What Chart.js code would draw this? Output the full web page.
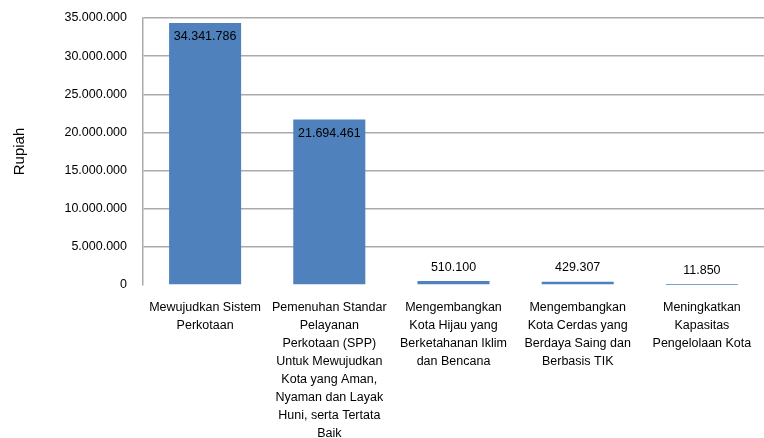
<!DOCTYPE html>
<html>
<head>
<meta charset="utf-8">
<script src="https://cdn.jsdelivr.net/npm/chart.js@4/dist/chart.umd.min.js"></script>
<style>
  html, body { margin: 0; padding: 0; background: #fff; }
  #wrap { width: 764px; height: 438px; }
</style>
</head>
<body>
<div id="wrap"><canvas id="chart"></canvas></div>
<script>
// program names, wrapped the way the original chart wraps them
const programs = [
  ["Mewujudkan Sistem", "Perkotaan"],
  ["Pemenuhan Standar", "Pelayanan", "Perkotaan (SPP)", "Untuk Mewujudkan", "Kota yang Aman,", "Nyaman dan Layak", "Huni, serta Tertata", "Baik"],
  ["Mengembangkan", "Kota Hijau yang", "Berketahanan Iklim", "dan Bencana"],
  ["Mengembangkan", "Kota Cerdas yang", "Berdaya Saing dan", "Berbasis TIK"],
  ["Meningkatkan", "Kapasitas", "Pengelolaan Kota"]
];
const anggaran = [34341786, 21694461, 510100, 429307, 11850];
const yTicks = [0, 5000000, 10000000, 15000000, 20000000, 25000000, 30000000, 35000000];
const yTitle = "Rupiah";

const FONT = "'Liberation Sans', Arial, sans-serif";
const fmt = v => v.toString().replace(/\B(?=(\d{3})+(?!\d))/g, ".");

// value labels: inside the top of tall bars, above the short ones
const valueLabels = {
  id: "valueLabels",
  afterDatasetsDraw(chart) {
    const ctx = chart.ctx;
    const meta = chart.getDatasetMeta(0);
    ctx.save();
    ctx.font = "12.5px " + FONT;
    ctx.fillStyle = "#000";
    ctx.textAlign = "center";
    ctx.textBaseline = "middle";
    meta.data.forEach((bar, i) => {
      const h = bar.base - bar.y;
      const y = h > 30 ? bar.y + 14 : bar.y - 14;
      ctx.fillText(fmt(anggaran[i]), bar.x, y);
    });
    ctx.restore();
  }
};

new Chart(document.getElementById("chart"), {
  type: "bar",
  data: {
    labels: programs,
    datasets: [{
      data: anggaran,
      backgroundColor: "#4F81BD",
      borderWidth: 0,
      barPercentage: 0.58,
      categoryPercentage: 1
    }]
  },
  options: {
    responsive: true,
    maintainAspectRatio: false,
    animation: false,
    layout: { padding: { top: 18, right: 0, left: 0, bottom: 0 } },
    plugins: { legend: { display: false }, tooltip: { enabled: false } },
    scales: {
      x: {
        grid: { display: false },
        border: { display: false },
        ticks: {
          autoSkip: false,
          maxRotation: 0,
          minRotation: 0,
          padding: 6,
          color: "#000",
          font: { family: FONT, size: 12.5, lineHeight: 1.43 }
        },
        afterFit(scale) { scale.height = 153; scale.paddingLeft = 0; scale.paddingRight = 0; }
      },
      y: {
        min: 0,
        max: 35000000,
        afterBuildTicks(scale) { scale.ticks = yTicks.map(v => ({ value: v })); },
        grid: {
          color: c => (c.tick && c.tick.value === 0 ? "rgba(0,0,0,0)" : "#ababab"),
          lineWidth: 1.5,
          drawTicks: false
        },
        border: { display: true, color: "#ababab", width: 1.5 },
        ticks: {
          padding: 16,
          color: "#000",
          font: { family: FONT, size: 12.5 },
          callback: v => fmt(v)
        },
        title: {
          display: true,
          text: yTitle,
          color: "#000",
          font: { family: FONT, size: 15 },
          padding: { top: 11, bottom: 0 }
        },
        afterFit(scale) { scale.width = 143; scale.paddingTop = 0; scale.paddingBottom = 0; }
      }
    }
  },
  plugins: [valueLabels]
});
</script>
</body>
</html>
